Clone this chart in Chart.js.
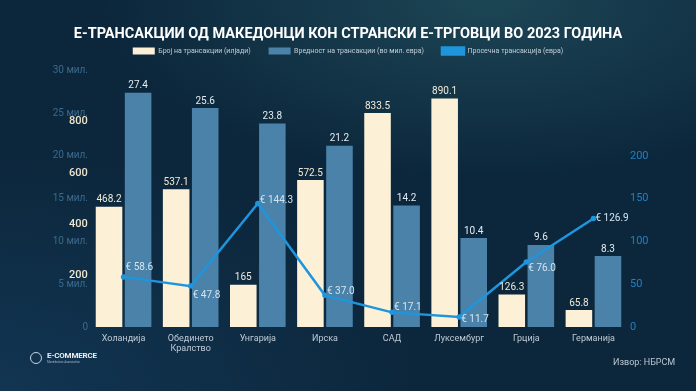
<!DOCTYPE html>
<html>
<head>
<meta charset="utf-8">
<script src="https://cdn.jsdelivr.net/npm/chart.js@4.4.1/dist/chart.umd.min.js"></script>
<style>
    html, body { margin: 0; padding: 0; }
    body {
        width: 696px; height: 391px; overflow: hidden; position: relative;
        font-family: Roboto, sans-serif;
        background:
            radial-gradient(ellipse 55% 45% at 70% 0%, rgba(42, 95, 105, 0.55), rgba(42, 95, 105, 0) 100%),
            radial-gradient(ellipse 60% 60% at 0% 100%, rgba(25, 70, 110, 0.45), rgba(25, 70, 110, 0) 100%),
            #0c273c;
    }
    #chart { position: absolute; left: 0; top: 0; }
    .logo { position: absolute; left: 30px; top: 352px; display: flex; align-items: center; color: #e8eef3; }
    .logo .icon { width: 10px; height: 10px; border: 1.5px solid #c8d4de; border-radius: 50%; margin-right: 5px; }
    .logo .name { font-size: 8px; font-weight: 700; letter-spacing: -0.2px; line-height: 8px; }
    .logo .sub { font-size: 3px; color: #9fb0bf; line-height: 4px; }
    .source { position: absolute; left: 613px; top: 357px; font-size: 9px; color: #b9c5d0; }
</style>
</head>
<body>
<canvas id="chart" width="696" height="391"></canvas>
<div class="logo"><div class="icon"></div><div><div class="name">E-COMMERCE</div><div class="sub">Macedonian Association</div></div></div>
<div class="source">Извор: НБРСМ</div>
<script>
const countries = ['Холандија', ['Обединето', 'Кралство'], 'Унгарија', 'Ирска', 'САД', 'Луксембург', 'Грција', 'Германија'];
const txCount = [468.2, 537.1, 165, 572.5, 833.5, 890.1, 126.3, 65.8];   // илјади
const txValue = [27.4, 25.6, 23.8, 21.2, 14.2, 10.4, 9.6, 8.3];           // мил. евра
const txAvg = [58.6, 47.8, 144.3, 37.0, 17.1, 11.7, 76.0, 126.9];         // евра

const seriesNames = ['Број на трансакции (илјади)', 'Вредност на трансакции (во мил. евра)', 'Просечна трансакција (евра)'];

// вертикално поместување на ознаките за просекот
const avgLabelShift = [-9, 9, -3, -4, -5, 3, 7, 0];

const CREAM = '#fcf1d7';
const STEEL = '#4b82aa';
const BRIGHT = '#1e95dc';

const barLabels = {
    id: 'barLabels',
    afterInit(chart) {
        // малку повеќе простор под легендата
        const legend = chart.legend;
        if (legend) {
            const fit = legend.fit;
            legend.fit = function () { fit.call(this); this.height += 6; };
        }
    },
    afterDatasetsDraw(chart) {
        const ctx = chart.ctx;
        ctx.save();
        ctx.font = '10px Roboto';
        ctx.textAlign = 'center';
        ctx.textBaseline = 'bottom';
        [0, 1].forEach(di => {
            ctx.fillStyle = di === 0 ? '#f2ead6' : '#e3ebf2';
            chart.getDatasetMeta(di).data.forEach((bar, i) => {
                ctx.fillText(String(chart.data.datasets[di].data[i]), bar.x, bar.y - 2);
            });
        });
        ctx.textAlign = 'left';
        ctx.textBaseline = 'middle';
        ctx.fillStyle = '#d3e4f1';
        chart.getDatasetMeta(2).data.forEach((pt, i) => {
            ctx.fillText('€ ' + txAvg[i].toFixed(1), pt.x + 2, pt.y + avgLabelShift[i]);
        });
        ctx.restore();
    }
};

new Chart(document.getElementById('chart'), {
    type: 'bar',
    data: {
        labels: countries,
        datasets: [
            { label: seriesNames[0], data: txCount, backgroundColor: CREAM, yAxisID: 'yCount', order: 1,
              categoryPercentage: 0.866, barPercentage: 0.914 },
            { label: seriesNames[1], data: txValue, backgroundColor: STEEL, yAxisID: 'yValue', order: 2,
              categoryPercentage: 0.866, barPercentage: 0.914 },
            { label: seriesNames[2], type: 'line', data: txAvg, borderColor: BRIGHT, backgroundColor: BRIGHT,
              borderWidth: 2.5, pointRadius: 1.5, tension: 0, yAxisID: 'yAvg', order: 0 }
        ]
    },
    options: {
        responsive: false,
        animation: false,
        layout: { padding: { left: 0, right: 0, top: 0, bottom: 0 } },
        plugins: {
            tooltip: { enabled: false },
            title: {
                display: true,
                text: 'Е-ТРАНСАКЦИИ ОД МАКЕДОНЦИ КОН СТРАНСКИ Е-ТРГОВЦИ ВО 2023 ГОДИНА',
                color: '#ffffff',
                font: { family: 'Roboto', size: 14.5, weight: 'bold' },
                padding: { top: 26, bottom: -14 }
            },
            legend: {
                display: true,
                labels: {
                    boxWidth: 22,
                    boxHeight: 7,
                    color: '#c3ced8',
                    font: { family: 'Roboto', size: 7 },
                    padding: 18,
                    sort: (a, b) => a.datasetIndex - b.datasetIndex
                }
            }
        },
        scales: {
            x: {
                grid: { display: false, drawTicks: false },
                border: { display: false },
                ticks: { color: '#bfcad5', font: { family: 'Roboto', size: 9 }, padding: 6, maxRotation: 0 },
                afterFit: s => { s.height = 64; }
            },
            yCount: {
                // без сопствена ширина: ознаките се цртаат преку оние на yValue
                position: 'left', weight: 0, min: 0, max: 1000,
                grid: { display: false, drawTicks: false },
                border: { display: false },
                ticks: { stepSize: 200, mirror: true, padding: -21, color: '#efe6d0',
                         font: { family: 'Roboto', size: 11, weight: '500' },
                         callback: v => (v === 0 || v === 1000) ? '' : v },
                afterFit: s => { s.width = 0; }
            },
            yValue: {
                position: 'left', weight: 1, min: 0, max: 30,
                grid: { display: false, drawTicks: false },
                border: { display: false },
                ticks: { stepSize: 5, padding: 2, color: '#3b6a8c', font: { family: 'Roboto', size: 10 },
                         callback: v => v === 0 ? '0' : v + ' мил.' },
                afterFit: s => { s.width = 90; }
            },
            yAvg: {
                position: 'right', min: 0, max: 300,
                grid: { display: false, drawTicks: false },
                border: { display: false },
                ticks: { stepSize: 50, padding: 3, color: '#1f80c3', font: { family: 'Roboto', size: 11 },
                         callback: v => v > 200 ? '' : v },
                afterFit: s => { s.width = 69; }
            }
        }
    },
    plugins: [barLabels]
});
</script>
</body>
</html>
